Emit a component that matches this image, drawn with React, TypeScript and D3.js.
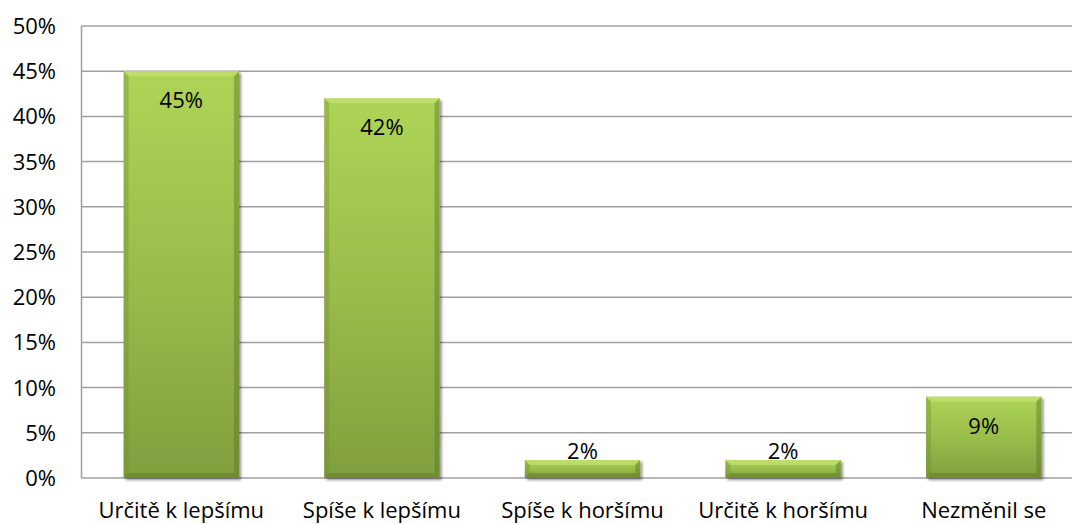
import React from "react";
import * as d3 from "d3";

const categories = ["Určitě k lepšímu", "Spíše k lepšímu", "Spíše k horšímu", "Určitě k horšímu", "Nezměnil se"];
const values = [45, 42, 2, 2, 9];
const yTicks = [0, 5, 10, 15, 20, 25, 30, 35, 40, 45, 50];

const W = 1072;
const H = 524;
const FONT = "'Open Sans', sans-serif";

export default function App() {
  const x = d3.scaleBand<string>().domain(categories).range([81, 1084]).paddingInner(0.425).paddingOuter(0.2125);
  const y = d3.scaleLinear().domain([0, 50]).range([478, 26]);
  const bw = x.bandwidth();
  const b = 5;
  return (
    <div style={{ position: "absolute", left: 0, top: 0, width: W, height: H, overflow: "hidden", background: "#fff" }}>
      <svg width={W} height={H} style={{ display: "block" }}>
        <defs>
          <linearGradient id="g" x1="0" y1="0" x2="0" y2="1">
            <stop offset="0" stopColor="#aed456" />
            <stop offset="0.5" stopColor="#99bd4b" />
            <stop offset="1" stopColor="#809f3e" />
          </linearGradient>
          <filter id="sh" x="-10%" y="-10%" width="130%" height="130%">
            <feGaussianBlur in="SourceAlpha" stdDeviation="1.6" />
            <feOffset dx="1.5" dy="2" result="o" />
            <feComponentTransfer><feFuncA type="linear" slope="0.45" /></feComponentTransfer>
            <feMerge><feMergeNode /><feMergeNode in="SourceGraphic" /></feMerge>
          </filter>
        </defs>
        {yTicks.map((t) => (
          <g key={t}>
            <line x1={81} x2={W} y1={y(t)} y2={y(t)} stroke="#a0a0a0" strokeWidth={1.5} />
            <text x={56} y={y(t)} dy="0.36em" textAnchor="end" fontFamily={FONT} fontSize={22} fill="#000">{t}%</text>
          </g>
        ))}
        <line x1={81.5} x2={81.5} y1={y(50)} y2={y(0)} stroke="#a0a0a0" strokeWidth={1.5} />
        {categories.map((c, i) => {
          const x0 = x(c)!;
          const top = y(values[i]);
          const bot = y(0);
          const h = bot - top;
          const bb = Math.min(b, h / 2);
          const labelY = h < 40 ? top - 1 : top + 37;
          return (
            <g key={c}>
              <g filter="url(#sh)">
                <rect x={x0} y={top} width={bw} height={h} fill="url(#g)" />
              </g>
              <polygon points={`${x0},${top} ${x0 + bw},${top} ${x0 + bw - bb},${top + bb} ${x0 + bb},${top + bb}`} fill="#c8e57a" opacity={0.6} />
              <polygon points={`${x0},${top} ${x0 + bb},${top + bb} ${x0 + bb},${bot - bb} ${x0},${bot}`} fill="#6c8a2e" opacity={0.35} />
              <polygon points={`${x0 + bw},${top} ${x0 + bw - bb},${top + bb} ${x0 + bw - bb},${bot - bb} ${x0 + bw},${bot}`} fill="#5a7524" opacity={0.45} />
              <polygon points={`${x0},${bot} ${x0 + bb},${bot - bb} ${x0 + bw - bb},${bot - bb} ${x0 + bw},${bot}`} fill="#5a7524" opacity={0.45} />
              <text x={x0 + bw / 2} y={labelY} textAnchor="middle" fontFamily={FONT} fontSize={22} fill="#000">{values[i]}%</text>
              <text x={x0 + bw / 2} y={518} textAnchor="middle" fontFamily={FONT} fontSize={22} fill="#000">{c}</text>
            </g>
          );
        })}
      </svg>
    </div>
  );
}
